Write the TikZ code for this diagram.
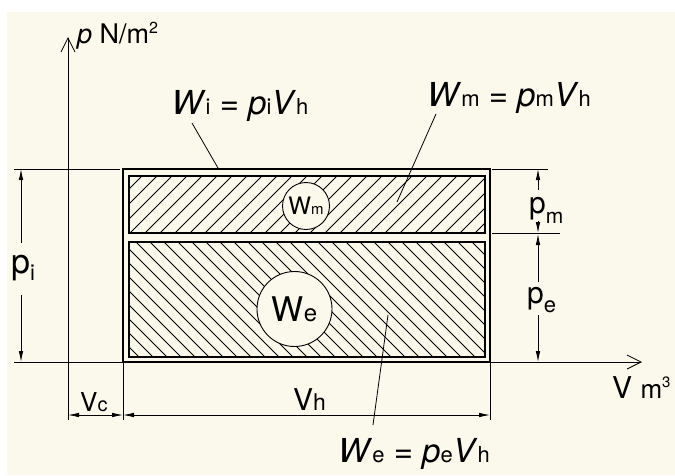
\documentclass[tikz,border=0pt]{standalone}
\usepackage{fontspec}
\setmainfont{TeX Gyre Heros}
\usetikzlibrary{arrows.meta}
\definecolor{bg}{RGB}{251,249,236}
\newcommand\fs[1]{\fontsize{#1}{#1}\selectfont}
\tikzset{
  thin line/.style={line width=0.8pt},
  dimarrow/.style={thin line,-{Latex[length=11pt,width=4.5pt]}},
  dimboth/.style={thin line,{Latex[length=11pt,width=4.5pt]}-{Latex[length=11pt,width=4.5pt]}},
  axis/.style={line width=0.8pt,-{Straight Barb[length=14pt,width=14pt,line width=0.8pt]}},
  hatch/.style={line width=0.8pt},
  inner rect/.style={line width=2.3pt},
  lbl/.style={inner sep=0pt,anchor=base},
  bubble/.style={circle,draw,fill=bg,line width=0.9pt,inner sep=0pt}
}
\begin{document}
\begin{tikzpicture}[x=1pt,y=-1pt]
\useasboundingbox (0,0) rectangle (675,475);
\fill[white] (0,0) rectangle (675,475);
\fill[bg] (7,12) rectangle (675,475);

% hatching
\begin{scope}
\clip (129,176) rectangle (485,233);
\foreach \x in {70,85,...,490} \draw[hatch] (\x,233) -- ++(57,-57);
\end{scope}
\begin{scope}
\clip (129,242) rectangle (485,357);
\foreach \x in {10,24,...,490} \draw[hatch] (\x,242) -- ++(115,115);
\end{scope}

% rectangles
\draw[line width=2pt] (123,169) rectangle (490,362);
\draw[inner rect] (129,176) rectangle (485,233);
\draw[inner rect] (129,242) rectangle (485,357);

% axes
\coordinate (yb) at (68,420);
\coordinate (yt) at (68,37);
\coordinate (xl) at (14,362);
\coordinate (xr) at (642,362);
\draw[axis] (yb) -- (yt);
\draw[axis] (xl) -- (xr);

% extension lines
\coordinate (e1a) at (14,169); \coordinate (e1b) at (120,169);
\coordinate (e2a) at (492,169); \coordinate (e2b) at (548,169);
\coordinate (e3a) at (492,233); \coordinate (e3b) at (560,233);
\coordinate (e4a) at (123,362); \coordinate (e4b) at (123,420);
\coordinate (e5a) at (490,362); \coordinate (e5b) at (490,420);
\draw[thin line] (e1a) -- (e1b);
\draw[thin line] (e2a) -- (e2b);
\draw[thin line] (e3a) -- (e3b);
\draw[thin line] (e4a) -- (e4b);
\draw[thin line] (e5a) -- (e5b);

% circles
\node[bubble,minimum size=47pt] (cm) at (306,206) {\fs{24}W\fs{15}m};
\node[bubble,minimum size=75pt] (ce) at (294.5,309) {\fs{34}W\fs{24}e};

% axis labels
\node[lbl,anchor=base west] (pN) at (77,43) {\fs{27}\textit{p} N/m\raisebox{10pt}{\fs{16}2}};
\node[lbl,anchor=base west] (Vm) at (612,398) {\fs{30}V \fs{26}m\raisebox{11pt}{\fs{15}3}};

% formulas
\node[lbl] (wi) at (240,114) {\fs{33}\textit{W}\fs{22}i\fs{33} = \textit{p}\fs{22}i\fs{33}\textit{V}\fs{22}h};
\node[lbl] (wm) at (509,106) {\fs{33}\textit{W}\fs{22}m\fs{33} = \textit{p}\fs{22}m\fs{33}\textit{V}\fs{22}h};
\node[lbl] (we) at (414,462) {\fs{33}\textit{W}\fs{22}e\fs{33} = \textit{p}\fs{22}e\fs{33}\textit{V}\fs{22}h};

% leaders
\coordinate (wiA) at (192,123); \coordinate (wiB) at (218,168);
\coordinate (wmA) at (436,114); \coordinate (wmB) at (397,202);
\coordinate (weA) at (373,425); \coordinate (weB) at (388,315);
\draw[thin line] (wiA) -- (wiB);
\draw[thin line] (wmA) -- (wmB);
\draw[thin line] (weA) -- (weB);

% p_i dimension
\node[lbl,anchor=base west] (pi) at (11,273) {\fs{34}p\raisebox{-7pt}{\fs{22}i}};
\coordinate (pi1) at (21,243); \coordinate (pi2) at (21,169);
\coordinate (pi3) at (21,295); \coordinate (pi4) at (21,362);
\draw[dimarrow] (pi1) -- (pi2);
\draw[dimarrow] (pi3) -- (pi4);

% p_m dimension
\node[lbl,anchor=base west] (pm) at (529,213) {\fs{30}p\raisebox{-10pt}{\fs{21}m}};
\coordinate (pm1) at (538,190); \coordinate (pm2) at (538,169);
\coordinate (pm3) at (538,221); \coordinate (pm4) at (538,233);
\draw[dimarrow] (pm1) -- (pm2);
\draw[dimarrow] (pm3) -- (pm4);

% p_e dimension
\node[lbl,anchor=base west] (pe) at (527,303) {\fs{30}p\raisebox{-9pt}{\fs{22}e}};
\coordinate (pe1) at (538,282); \coordinate (pe2) at (538,234);
\coordinate (pe3) at (538,315); \coordinate (pe4) at (538,362);
\draw[dimarrow] (pe1) -- (pe2);
\draw[dimarrow] (pe3) -- (pe4);

% V dimensions
\coordinate (vc1) at (68,415); \coordinate (vc2) at (123,415);
\coordinate (vh1) at (123,415); \coordinate (vh2) at (490,415);
\draw[dimboth] (vc1) -- (vc2);
\draw[dimboth] (vh1) -- (vh2);
\node[lbl,anchor=base west] (vc) at (80,411) {\fs{26}V\fs{20}c};
\node[lbl,anchor=base west] (vh) at (293,410) {\fs{30}V\fs{23}h};
\end{tikzpicture}
\end{document}
